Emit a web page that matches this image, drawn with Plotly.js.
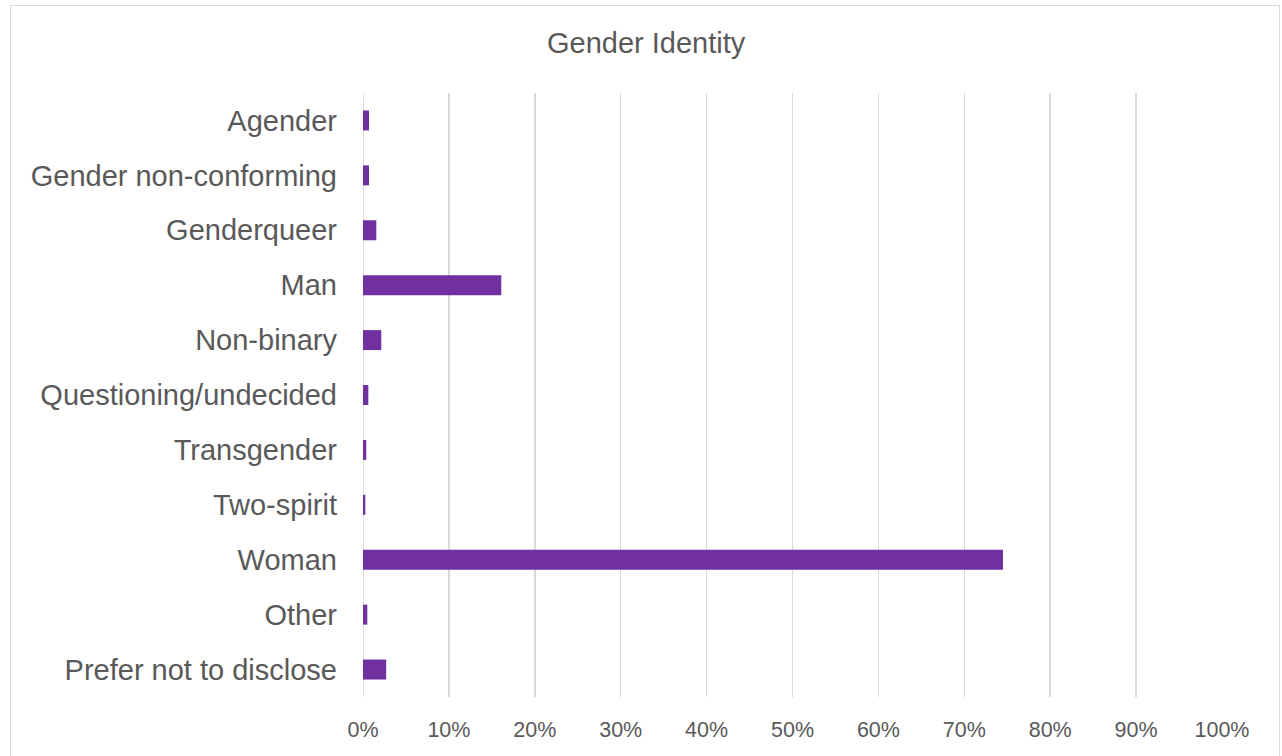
<!DOCTYPE html>
<html>
<head>
<meta charset="utf-8">
<script src="https://cdn.plot.ly/plotly-3.0.1.min.js"></script>
<style>
  html, body { margin: 0; padding: 0; background: #fff; overflow: hidden; }
  #chart { width: 1282px; height: 756px; position: relative; }
  #frame { position: absolute; left: 10px; top: 5px; width: 1270px; height: 760px;
           border: 1.5px solid #d9d9d9; pointer-events: none; box-sizing: border-box; }
</style>
</head>
<body>
<div id="chart"></div>
<div id="frame"></div>
<script>
const categories = [
  "Agender",
  "Gender non-conforming",
  "Genderqueer",
  "Man",
  "Non-binary",
  "Questioning/undecided",
  "Transgender",
  "Two-spirit",
  "Woman",
  "Other",
  "Prefer not to disclose"
];
const shares = [0.007, 0.007, 0.0155, 0.161, 0.0213, 0.0062, 0.0038, 0.0027, 0.745, 0.005, 0.027];
const tickVals = [0, 0.1, 0.2, 0.3, 0.4, 0.5, 0.6, 0.7, 0.8, 0.9, 1.0];
const tickText = ["0%", "10%", "20%", "30%", "40%", "50%", "60%", "70%", "80%", "90%", "100%"];
const chartTitle = "Gender Identity";

const trace = {
  type: "bar",
  orientation: "h",
  x: shares,
  y: categories,
  marker: { color: "#7030A0" },
  hoverinfo: "x+y"
};

const layout = {
  width: 1282,
  height: 756,
  margin: { l: 363, r: 60, t: 92.5, b: 58.5 },
  paper_bgcolor: "#ffffff",
  plot_bgcolor: "#ffffff",
  bargap: 0.636,
  showlegend: false,
  font: { family: "Liberation Sans, Arial, sans-serif", color: "#595959" },
  title: {
    text: chartTitle,
    font: { size: 29, color: "#595959", family: "Liberation Sans, Arial, sans-serif" },
    x: 0.504, xref: "container", xanchor: "center",
    y: 0.9437, yref: "container", yanchor: "middle"
  },
  xaxis: {
    range: [0, 1],
    tickvals: tickVals,
    ticktext: tickText,
    showgrid: true,
    gridcolor: "#d9d9d9",
    gridwidth: 1.5,
    zeroline: false,
    showline: false,
    ticks: "",
    tickfont: { size: 21.5, color: "#595959" },
    ticklabelstandoff: 17,
    fixedrange: true
  },
  yaxis: {
    type: "category",
    autorange: "reversed",
    showgrid: false,
    zeroline: false,
    showline: false,
    ticks: "",
    tickfont: { size: 29, color: "#595959" },
    ticklabelstandoff: 25,
    fixedrange: true
  },
  shapes: [
    { type: "line", xref: "x", yref: "paper", x0: 0, x1: 0, y0: 0, y1: 1,
      line: { color: "#d9d9d9", width: 1.5 }, layer: "below" }
  ]
};

Plotly.newPlot("chart", [trace], layout, { displayModeBar: false, staticPlot: true });
</script>
</body>
</html>
